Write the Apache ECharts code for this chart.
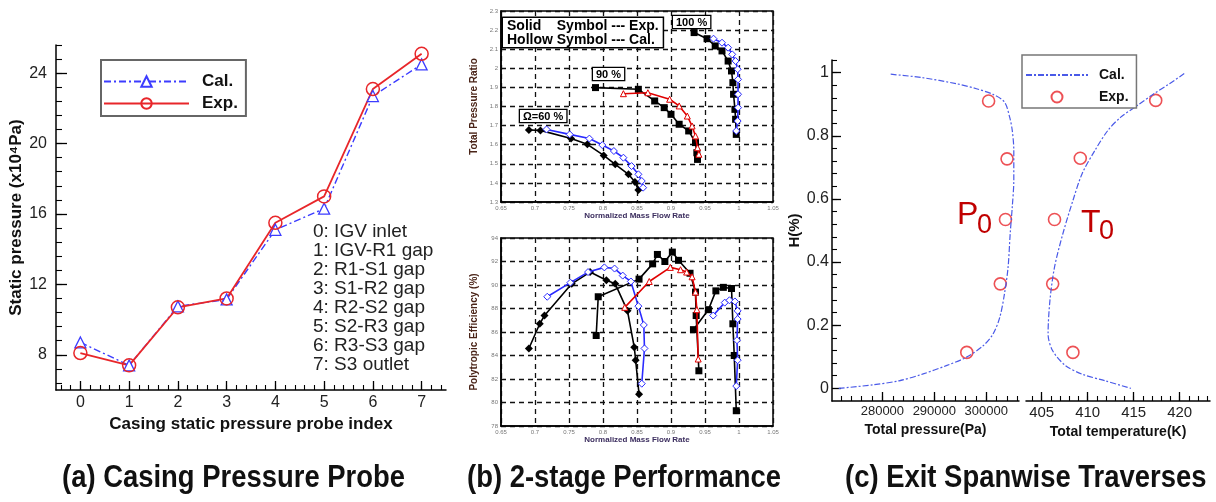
<!DOCTYPE html>
<html>
<head>
<meta charset="utf-8">
<script src="https://cdn.jsdelivr.net/npm/echarts@6/dist/echarts.min.js"></script>
<style>
html, body { margin: 0; padding: 0; background: #fff; }
#chart { width: 1216px; height: 502px; }
</style>
</head>
<body>
<div id="chart"></div>
<script>
// ---- (a) casing static pressure probes ----
var probeIdx = [0, 1, 2, 3, 4, 5, 6, 7];
var calPs = [8.7, 7.4, 10.75, 11.15, 15.1, 16.3, 22.7, 24.5];
var expPs = [8.1, 7.4, 10.7, 11.2, 15.5, 17.0, 23.1, 25.1];
var probeNames = ['0: IGV inlet', '1: IGV-R1 gap', '2: R1-S1 gap', '3: S1-R2 gap',
                  '4: R2-S2 gap', '5: S2-R3 gap', '6: R3-S3 gap', '7: S3 outlet'];
var psTicks = [8, 12, 16, 20, 24];

// ---- (b) total pressure ratio vs normalized mass flow ----
var pr60Exp = [[0.691,1.677],[0.708,1.675],[0.753,1.632],[0.777,1.602],[0.801,1.544],[0.818,1.497],[0.8375,1.445],[0.847,1.405],[0.852,1.363]];
var pr60Cal = [[0.717,1.680],[0.751,1.654],[0.780,1.632],[0.799,1.598],[0.816,1.567],[0.830,1.532],[0.842,1.488],[0.852,1.445],[0.857,1.410],[0.859,1.375]];
var pr90Exp = [[0.789,1.899],[0.852,1.890],[0.876,1.829],[0.890,1.794],[0.900,1.759],[0.912,1.707],[0.926,1.672],[0.936,1.611],[0.938,1.558],[0.939,1.523]];
var pr90Cal = [[0.830,1.867],[0.866,1.872],[0.898,1.838],[0.912,1.803],[0.924,1.750],[0.931,1.698],[0.936,1.646],[0.939,1.584],[0.941,1.550]];
var pr100Exp = [[0.934,2.187],[0.953,2.155],[0.965,2.117],[0.975,2.091],[0.984,2.038],[0.989,1.986],[0.991,1.925],[0.992,1.864],[0.994,1.785],[0.995,1.733],[0.996,1.654]];
var pr100Cal = [[0.9625,2.155],[0.975,2.134],[0.984,2.108],[0.990,2.073],[0.995,2.038],[0.998,1.995],[0.9986,1.942],[0.9986,1.864],[0.9986,1.794],[0.998,1.724],[0.996,1.672]];

// ---- (b) polytropic efficiency vs normalized mass flow ----
var eff60Exp = [[0.691,84.6],[0.707,86.7],[0.714,87.4],[0.754,90.1],[0.781,91.1],[0.805,90.4],[0.818,90.1],[0.836,87.8],[0.846,84.7],[0.848,83.6],[0.853,80.7]];
var eff60Cal = [[0.718,89.0],[0.752,90.2],[0.778,91.1],[0.802,91.5],[0.817,91.4],[0.829,90.8],[0.841,90.3],[0.852,88.2],[0.860,86.6],[0.861,84.6],[0.857,81.6]];
var eff90Exp = [[0.790,85.7],[0.793,89.0],[0.853,90.5],[0.873,91.8],[0.880,92.6],[0.891,92.0],[0.902,92.8],[0.911,92.1],[0.928,91.0],[0.936,89.4],[0.937,87.4],[0.941,82.7]];
var eff90Cal = [[0.832,88.1],[0.868,90.3],[0.899,91.5],[0.914,91.3],[0.923,91.1],[0.931,90.7],[0.936,89.4],[0.938,87.9],[0.940,83.7]];
var eff100Exp = [[0.933,86.2],[0.955,87.9],[0.966,89.5],[0.977,89.8],[0.989,89.7],[0.991,86.7],[0.993,84.0],[0.996,79.3]];
var eff100Cal = [[0.962,87.4],[0.979,88.5],[0.986,88.7],[0.994,88.6],[0.998,87.8],[0.998,87.1],[0.997,85.3],[0.998,83.6],[0.996,81.4]];

// ---- (c) exit spanwise traverses ----
var p0Cal = [[281600,0.995],[287700,0.984],[294200,0.965],[298100,0.949],[301300,0.931],[303500,0.907],[304500,0.859],[305000,0.817],[305300,0.754],[305300,0.659],[305000,0.574],[304600,0.489],[304200,0.384],[303500,0.299],[302600,0.225],[301300,0.172],[299400,0.135],[296100,0.098],[292300,0.072],[287700,0.045],[283200,0.024],[278100,0.011],[271600,0.0]];
var p0Exp = [[300450,0.910],[304000,0.727],[303700,0.535],[302700,0.331],[296250,0.114]];
var t0Cal = [[420.5,0.997],[418.9,0.965],[417.2,0.933],[415.4,0.896],[413.6,0.859],[412.2,0.817],[410.8,0.754],[409.4,0.680],[408.4,0.595],[407.3,0.489],[406.4,0.384],[405.9,0.278],[405.7,0.172],[406.2,0.119],[407.6,0.072],[409.4,0.045],[411.9,0.024],[414.7,0.0]];
var t0Exp = [[417.4,0.912],[409.2,0.729],[406.4,0.535],[406.2,0.331],[408.4,0.114]];
var hTicks = [0, 0.2, 0.4, 0.6, 0.8, 1];
var pTicks = [280000, 290000, 300000];
var tTicks = [405, 410, 415, 420];

function steps(a, b, s) {
    var out = [];
    for (var i = 0; a + i * s <= b + 1e-9; i++) out.push(+(a + i * s).toFixed(4));
    return out;
}

var FONT = 'Liberation Sans, Arial, sans-serif';
var BLUE = '#3c3cff', RED = '#e8262a', DBLUE = '#4a5ae8';

// axis helpers
function majorAxis(o) {
    var ax = {
        type: 'value', gridIndex: o.grid, min: o.min, max: o.max, position: o.pos,
        axisLine: { onZero: false, lineStyle: { color: '#000', width: 1.5 } },
        axisTick: { inside: true, length: o.tick, customValues: o.ticks, lineStyle: { color: '#000', width: 1.3 } },
        axisLabel: { customValues: o.labels || o.ticks, margin: o.margin, color: '#222', fontSize: o.fs, fontFamily: FONT,
                     formatter: function (v) { return String(v); } },
        splitLine: { show: false }
    };
    if (o.name) {
        ax.name = o.name; ax.nameLocation = 'middle'; ax.nameGap = o.nameGap;
        ax.nameTextStyle = { fontSize: o.nameFs, fontWeight: 'bold', fontFamily: FONT, color: '#111' };
        if (o.pos === 'left') ax.nameRotate = 90;
    }
    return ax;
}
function minorAxis(grid, min, max, pos, ticks, len) {
    return {
        type: 'value', gridIndex: grid, min: min, max: max, position: pos,
        axisLine: { show: false, onZero: false },
        axisTick: { inside: true, length: len, customValues: ticks, lineStyle: { color: '#000', width: 1.1 } },
        axisLabel: { show: false }, splitLine: { show: false }
    };
}
function perfAxis(grid, min, max, step, name, gap, isX) {
    return {
        type: 'value', gridIndex: grid, min: min, max: max, interval: step,
        axisLine: { onZero: false, lineStyle: { color: '#000', width: 1.5 } },
        axisTick: { show: false },
        axisLabel: { fontSize: 6, color: '#777', margin: 3, fontFamily: FONT },
        splitLine: { lineStyle: { color: '#111', width: 1.3, type: [5, 4] } },
        name: name, nameLocation: 'middle', nameGap: gap, nameRotate: isX ? 0 : 90,
        nameTextStyle: isX ? { fontSize: 8, fontWeight: 'bold', color: '#3b2d5e', fontFamily: FONT }
                           : { fontSize: 10, fontWeight: 'bold', color: '#4a2418', fontFamily: FONT }
    };
}
function perfSeries(data, x, y, color, symbol, hollow, size) {
    return {
        type: 'line', xAxisIndex: x, yAxisIndex: y, data: data, symbol: symbol, symbolSize: size || 7,
        lineStyle: { color: color, width: 1.6 },
        itemStyle: { color: hollow ? '#fff' : color, borderColor: color, borderWidth: hollow ? 1 : 0 },
        z: hollow ? 4 : 3
    };
}
function caption(x, text) {
    return { type: 'text', x: x, y: 478, scaleX: 0.885, style: { text: text, fontSize: 31, fontWeight: 'bold',
             fontFamily: FONT, fill: '#111', verticalAlign: 'middle' } };
}

var chart = echarts.init(document.getElementById('chart'));

var option = {
    backgroundColor: '#fff',
    animation: false,
    grid: [
        { left: 56, top: 45, width: 390, height: 345 },
        { left: 501, top: 11, width: 272, height: 191, show: true, borderColor: '#000', borderWidth: 1.5 },
        { left: 501, top: 238, width: 272, height: 188, show: true, borderColor: '#000', borderWidth: 1.5 },
        { left: 832, top: 60, width: 187, height: 341 },
        { left: 1026, top: 60, width: 184, height: 341 }
    ],
    xAxis: [
        majorAxis({ grid: 0, min: -0.5, max: 7.5, pos: 'bottom', ticks: probeIdx, tick: 9, margin: 5, fs: 16,
                    name: 'Casing static pressure probe index', nameGap: 19, nameFs: 17 }),
        minorAxis(0, -0.5, 7.5, 'bottom', steps(-0.4, 7.4, 0.2), 5),
        perfAxis(1, 0.65, 1.05, 0.05, 'Normalized Mass Flow Rate', 6, true),
        perfAxis(2, 0.65, 1.05, 0.05, 'Normalized Mass Flow Rate', 6, true),
        majorAxis({ grid: 3, min: 270300, max: 306300, pos: 'bottom', ticks: pTicks, tick: 9, margin: 4, fs: 13,
                    name: 'Total pressure(Pa)', nameGap: 18, nameFs: 14 }),
        minorAxis(3, 270300, 306300, 'bottom', steps(272000, 306000, 2000), 5),
        majorAxis({ grid: 4, min: 403.3, max: 423.3, pos: 'bottom', ticks: tTicks, tick: 9, margin: 4, fs: 15,
                    name: 'Total temperature(K)', nameGap: 18, nameFs: 14 }),
        minorAxis(4, 403.3, 423.3, 'bottom', steps(404, 423, 1), 5)
    ],
    yAxis: [
        majorAxis({ grid: 0, min: 6, max: 25.6, pos: 'left', ticks: psTicks, tick: 11, margin: 9, fs: 16,
                    name: 'Static pressure (x10\u2074Pa)', nameGap: 29, nameFs: 17 }),
        minorAxis(0, 6, 25.6, 'left', steps(6.4, 25.6, 0.8), 6),
        perfAxis(1, 1.3, 2.3, 0.1, 'Total Pressure Ratio', 22, false),
        perfAxis(2, 78, 94, 2, 'Polytropic Efficiency (%)', 22, false),
        majorAxis({ grid: 3, min: -0.04, max: 1.04, pos: 'left', ticks: hTicks, tick: 9, margin: 3, fs: 16,
                    name: 'H(%)', nameGap: 21, nameFs: 15 }),
        minorAxis(3, -0.04, 1.04, 'left', steps(0.04, 1.04, 0.04), 5),
        { type: 'value', gridIndex: 4, min: -0.04, max: 1.04, show: false }
    ],
    legend: [
        { data: ['Cal.', 'Exp.'], left: 101, top: 60, orient: 'vertical', itemWidth: 85, itemHeight: 13, itemGap: 5,
          padding: [13, 8, 4, 2], borderColor: '#666', borderWidth: 2, backgroundColor: '#fff',
          textStyle: { fontSize: 17, fontWeight: 'bold', fontFamily: FONT, color: '#111', padding: [0, 0, 0, 8] } },
        { data: [{ name: 'Cal. ', itemStyle: { opacity: 0 } }, 'Exp. '], left: 1022, top: 55, orient: 'vertical',
          itemWidth: 62, itemHeight: 11, itemGap: 8,
          padding: [13, 4, 4, 3], borderColor: '#777', borderWidth: 1.5, backgroundColor: '#fff',
          textStyle: { fontSize: 14, fontWeight: 'bold', fontFamily: FONT, color: '#111', padding: [0, 0, 0, 6] } }
    ],
    series: [
        { name: 'Cal.', type: 'line', xAxisIndex: 0, yAxisIndex: 0,
          data: probeIdx.map(function (x, i) { return [x, calPs[i]]; }),
          symbol: 'triangle', symbolSize: 11,
          lineStyle: { color: BLUE, width: 1.4, type: [7, 3, 2, 3] },
          itemStyle: { color: '#fff', borderColor: BLUE, borderWidth: 1.3 } },
        { name: 'Exp.', type: 'line', xAxisIndex: 0, yAxisIndex: 0,
          data: probeIdx.map(function (x, i) { return [x, expPs[i]]; }),
          symbol: 'circle', symbolSize: 13,
          lineStyle: { color: RED, width: 1.8 },
          itemStyle: { color: 'rgba(255,255,255,0)', borderColor: RED, borderWidth: 1.5 } },

        perfSeries(pr60Exp, 2, 2, '#000', 'diamond', false, 8),
        perfSeries(pr60Cal, 2, 2, '#2a2aff', 'diamond', true, 7),
        perfSeries(pr90Exp, 2, 2, '#000', 'rect', false, 7),
        perfSeries(pr90Cal, 2, 2, '#e00000', 'triangle', true, 6),
        perfSeries(pr100Exp, 2, 2, '#000', 'rect', false, 7),
        perfSeries(pr100Cal, 2, 2, '#2a2aff', 'diamond', true, 7),

        perfSeries(eff60Exp, 3, 3, '#000', 'diamond', false, 8),
        perfSeries(eff60Cal, 3, 3, '#2a2aff', 'diamond', true, 7),
        perfSeries(eff90Exp, 3, 3, '#000', 'rect', false, 7),
        perfSeries(eff90Cal, 3, 3, '#e00000', 'triangle', true, 6),
        perfSeries(eff100Exp, 3, 3, '#000', 'rect', false, 7),
        perfSeries(eff100Cal, 3, 3, '#2a2aff', 'diamond', true, 7),

        { name: 'Cal. ', type: 'line', xAxisIndex: 4, yAxisIndex: 4, data: p0Cal, symbol: 'none', smooth: 0.3,
          lineStyle: { color: DBLUE, width: 1.2, type: [6, 2, 2, 2] }, itemStyle: { color: DBLUE } },
        { name: 'Exp. ', type: 'scatter', xAxisIndex: 4, yAxisIndex: 4, data: p0Exp, symbol: 'circle', symbolSize: 12,
          itemStyle: { color: 'rgba(255,255,255,0)', borderColor: RED, borderWidth: 1.6 } },
        { name: 'Cal. ', type: 'line', xAxisIndex: 6, yAxisIndex: 6, data: t0Cal, symbol: 'none', smooth: 0.3,
          lineStyle: { color: DBLUE, width: 1.2, type: [6, 2, 2, 2] } },
        { name: 'Exp. ', type: 'scatter', xAxisIndex: 6, yAxisIndex: 6, data: t0Exp, symbol: 'circle', symbolSize: 12,
          itemStyle: { color: 'rgba(255,255,255,0)', borderColor: RED, borderWidth: 1.6 } }
    ],
    graphic: [
        { type: 'text', x: 313, y: 222, style: { text: probeNames.join('\n'), fontSize: 19, lineHeight: 19,
          fontFamily: FONT, fill: '#222', verticalAlign: 'top' } },

        { type: 'text', x: 503, y: 18, z: 10, style: { text: 'Solid    Symbol --- Exp.\nHollow Symbol --- Cal.',
          fontSize: 14, lineHeight: 14, fontWeight: 'bold', fontFamily: FONT, fill: '#000',
          backgroundColor: '#fff', borderColor: '#000', borderWidth: 1.5, padding: [1, 4, 0, 4] } },
        { type: 'text', x: 673, y: 16, z: 10, style: { text: '100 %', fontSize: 11, fontWeight: 'bold', fontFamily: FONT,
          fill: '#000', backgroundColor: '#fff', borderColor: '#000', borderWidth: 1.3, padding: [1, 3, 0, 3] } },
        { type: 'text', x: 593, y: 68, z: 10, style: { text: '90 %', fontSize: 11, fontWeight: 'bold', fontFamily: FONT,
          fill: '#000', backgroundColor: '#fff', borderColor: '#000', borderWidth: 1.3, padding: [1, 3, 0, 3] } },
        { type: 'text', x: 520, y: 110, z: 10, style: { text: '\u03a9=60 %', fontSize: 11, fontWeight: 'bold', fontFamily: FONT,
          fill: '#000', backgroundColor: '#fff', borderColor: '#000', borderWidth: 1.3, padding: [1, 3, 0, 3] } },

        { type: 'text', x: 957, y: 215, style: { text: 'P', fontSize: 32, fontFamily: FONT, fill: '#c00000', verticalAlign: 'middle' } },
        { type: 'text', x: 977, y: 226, style: { text: '0', fontSize: 27, fontFamily: FONT, fill: '#c00000', verticalAlign: 'middle' } },
        { type: 'text', x: 1081, y: 223, style: { text: 'T', fontSize: 32, fontFamily: FONT, fill: '#c00000', verticalAlign: 'middle' } },
        { type: 'text', x: 1099, y: 232, style: { text: '0', fontSize: 27, fontFamily: FONT, fill: '#c00000', verticalAlign: 'middle' } },

        caption(62, '(a) Casing Pressure Probe'),
        caption(467, '(b) 2-stage Performance'),
        caption(845, '(c) Exit Spanwise Traverses')
    ]
};

chart.setOption(option);
</script>
</body>
</html>
